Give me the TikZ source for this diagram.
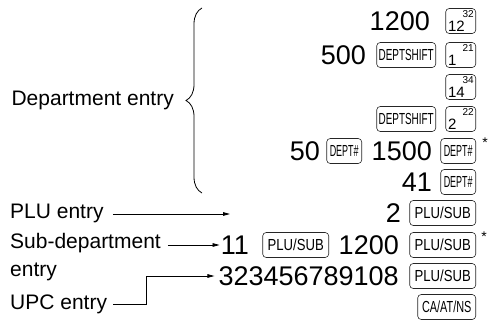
\documentclass[tikz,border=0pt]{standalone}
\usepackage{fontspec}
\setmainfont{Liberation Sans}
\usetikzlibrary{arrows.meta,decorations.pathreplacing}

\tikzset{
  lbl/.style={anchor=west, inner sep=0pt, font=\fontsize{21}{28}\selectfont},
  num/.style={anchor=east, inner sep=0pt, font=\fontsize{27}{27}\selectfont},
  keycap/.style={draw=black!85, line width=0.6pt, rounded corners=3.5pt, anchor=east,
    minimum height=25pt, inner sep=0pt, font=\fontsize{16}{16}\selectfont},
  numkey/.style={keycap, minimum width=30pt},
  shiftkey/.style={keycap, minimum width=59pt},
  deptkey/.style={keycap, minimum width=35pt},
  plukey/.style={keycap, minimum width=66pt},
  cakey/.style={keycap, minimum width=58pt},
  digit/.style={anchor=south west, inner sep=2.5pt, font=\fontsize{15}{15}\selectfont},
  sup/.style={anchor=north east, inner sep=2pt, font=\fontsize{10}{10}\selectfont},
  star/.style={inner sep=0pt, font=\fontsize{14}{14}\selectfont},
  arr/.style={-{Triangle[length=7pt,width=3.6pt]}, line width=0.8pt},
  brc/.style={decorate, decoration={brace, amplitude=16pt}, line width=0.8pt},
}
\newcommand{\sq}[2]{\scalebox{#1}[1]{#2}}

\begin{document}
\begin{tikzpicture}[x=1pt, y=-1pt]
  \useasboundingbox (0,0) rectangle (489,323);

  % Department entry
  \coordinate (btop) at (202,8);
  \coordinate (bbot) at (202,193);
  \draw[brc] (bbot) -- (btop);
  \node[lbl, anchor=east] (dept) at (174,100) {Department entry};

  % row 1
  \node[num] (n1) at (430,21) {1200};
  \node[numkey] (k1) at (476,21) {};
  \node[digit] (k1a) at (k1.south west) {12};
  \node[sup] (k1b) at (k1.north east) {32};
  % row 2
  \node[num] (n2) at (366,55) {500};
  \node[shiftkey] (s2) at (436,55) {\sq{0.62}{DEPTSHIFT}};
  \node[numkey] (k2) at (476,55) {};
  \node[digit] (k2a) at (k2.south west) {1};
  \node[sup] (k2b) at (k2.north east) {21};
  % row 3
  \node[numkey] (k3) at (476,87) {};
  \node[digit] (k3a) at (k3.south west) {14};
  \node[sup] (k3b) at (k3.north east) {34};
  % row 4
  \node[shiftkey] (s4) at (436,119) {\sq{0.62}{DEPTSHIFT}};
  \node[numkey] (k4) at (476,119) {};
  \node[digit] (k4a) at (k4.south west) {2};
  \node[sup] (k4b) at (k4.north east) {22};
  % row 5
  \node[num] (n5a) at (320,151) {50};
  \node[deptkey] (d5a) at (362,151) {\sq{0.56}{DEPT\#}};
  \node[num] (n5b) at (432,151) {1500};
  \node[deptkey] (d5b) at (476,151) {\sq{0.56}{DEPT\#}};
  \node[star] (st5) at (485,143) {*};
  % row 6
  \node[num] (n6) at (432,182) {41};
  \node[deptkey] (d6) at (476,182) {\sq{0.56}{DEPT\#}};

  % PLU entry
  \node[lbl] (plu) at (10,213) {PLU entry};
  \coordinate (pluend) at (230,214);
  \node[num] (n7) at (401,213) {2};
  \node[plukey] (p7) at (476,213) {\sq{0.82}{PLU/SUB}};
  \draw[arr] ([xshift=9pt]plu.east |- pluend) -- (pluend);

  % Sub-department entry
  \node[lbl, anchor=north west, align=left] (sub) at (10,233) {Sub-department\\entry};
  \node[num] (n8a) at (249,245) {11};
  \node[plukey] (p8a) at (329,245) {\sq{0.82}{PLU/SUB}};
  \node[num] (n8b) at (399,245) {1200};
  \node[plukey] (p8b) at (476,245) {\sq{0.82}{PLU/SUB}};
  \node[star] (st8) at (484,237) {*};
  \draw[arr] ([xshift=7pt]sub.east |- n8a) -- ([xshift=-1pt]n8a.west);

  % UPC entry
  \node[lbl] (upc) at (10,304) {UPC entry};
  \node[num] (n9) at (399,276) {323456789108};
  \node[plukey] (p9) at (476,276) {\sq{0.82}{PLU/SUB}};
  \draw[arr] ([xshift=6pt]upc.east) -- ++(33,0) |- ([xshift=-4pt]n9.west);

  \node[cakey] (ca) at (476,307) {\sq{0.68}{CA/AT/NS}};
\end{tikzpicture}
\end{document}
